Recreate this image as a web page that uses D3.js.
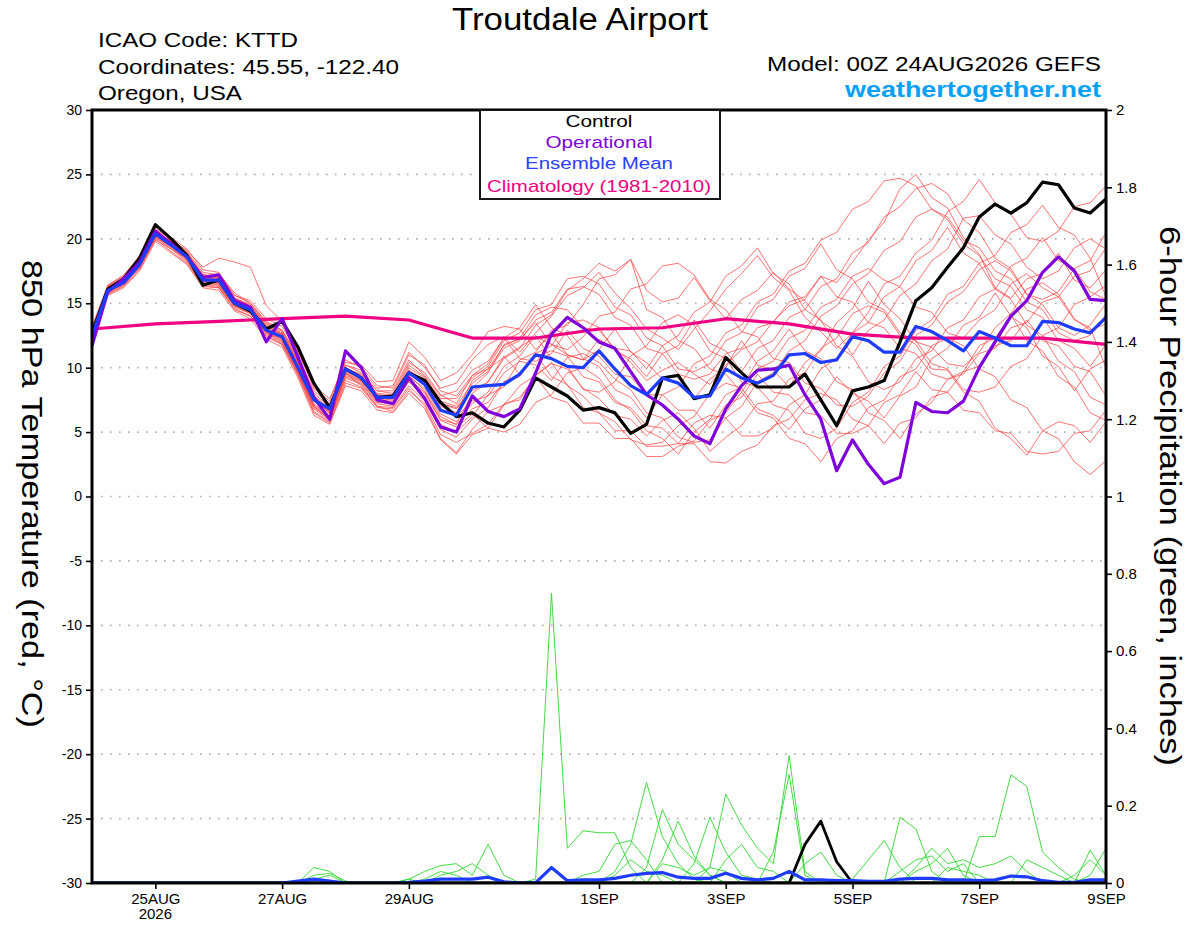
<!DOCTYPE html>
<html><head><meta charset="utf-8">
<script src="https://cdn.jsdelivr.net/npm/d3@7"></script>
<style>
html,body{margin:0;padding:0;background:#fff;}
svg text{font-family:"Liberation Sans",Arial,Helvetica,sans-serif;}
</style></head>
<body>
<svg id="chart" width="1200" height="927"></svg>
<script>
// ---------- data ----------
const startTimeUTC = Date.UTC(2026, 7, 24, 0);
const stepHours = 6;
const tempTicks = [30, 25, 20, 15, 10, 5, 0, -5, -10, -15, -20, -25, -30];
const precipTicks = [0, 0.2, 0.4, 0.6, 0.8, 1, 1.2, 1.4, 1.6, 1.8, 2];
const precipTickLabels = ["0", "0.2", "0.4", "0.6", "0.8", "1", "1.2", "1.4", "1.6", "1.8", "2"];
const dateTickValues = ["2026-08-25", "2026-08-27", "2026-08-29", "2026-09-01", "2026-09-03", "2026-09-05", "2026-09-07", "2026-09-09"];
const dateTickLabels = ["25AUG", "27AUG", "29AUG", "1SEP", "3SEP", "5SEP", "7SEP", "9SEP"];

// 850 hPa temperature (C), every 6 h from 00Z 24AUG
const controlTemp = [12.7,16.1,16.9,18.5,21.1,20.0,18.7,16.4,16.8,15.0,14.4,13.0,13.6,
  11.6,8.8,6.9,9.9,9.2,7.7,7.8,9.6,9.0,7.3,
  6.2,6.5,5.7,5.4,6.7,9.2,8.5,7.8,6.7,6.9,
  6.5,4.9,5.6,9.2,9.4,7.6,7.9,10.8,9.6,8.5,8.5,
  8.5,9.5,7.5,5.5,8.2,8.5,9.0,12.0,15.2,16.2,17.8,
  19.3,21.7,22.7,22.0,22.8,24.4,24.2,22.4,22.0,23.1];
const operationalTemp = [11.7,15.9,16.9,18.2,20.6,19.6,18.6,17.0,17.2,15.2,14.7,12.0,13.8,
  10.8,7.7,6.0,11.3,10.0,7.5,7.2,9.2,7.6,5.4,
  5.0,7.8,6.6,6.2,6.8,9.6,12.6,13.9,13.1,12.0,
  11.5,9.7,7.9,7.1,6.0,4.7,4.1,6.8,8.6,9.8,9.9,
  10.2,7.9,6.0,2.0,4.4,2.5,1.0,1.5,7.3,6.6,6.5,
  7.4,10.0,12.0,14.0,15.2,17.4,18.6,17.5,15.3,15.2];
const meanTemp = [12.5,16.0,16.6,18.0,20.4,19.5,18.6,16.8,16.8,15.0,14.5,12.9,12.4,
  10.0,7.5,6.8,9.9,9.2,7.7,7.7,9.6,8.7,6.7,
  6.3,8.5,8.6,8.7,9.5,11.0,10.7,10.1,10.0,11.3,
  9.9,8.6,7.9,9.2,8.8,7.7,7.8,9.9,9.2,8.8,9.4,
  11.0,11.1,10.4,10.6,12.4,12.1,11.2,11.2,13.2,12.8,12.1,
  11.3,12.8,12.3,11.7,11.7,13.6,13.5,13.0,12.7,13.9];
// climatology, one value per day 24AUG..9SEP
const climatologyTemp = [13.0,13.4,13.6,13.8,14.0,13.7,12.3,12.3,13.0,13.1,13.8,13.4,12.6,12.3,12.3,12.3,11.8];

const mem01 = [12.9,16.1,16.8,18.4,20.3,19.9,18.9,17.2,17.0,15.4,14.9,13.4,12.8, 10.6,7.8,6.4,9.9,9.5,8.2,8.0,10.4,9.6,7.9, 7.2,9.4,9.9,10.8,11.6,12.4,11.8,11.0,10.6,12.2, 11.5,10.4,9.0,9.8,10.4,9.5,8.7,10.2,11.4,12.0,13.6, 14.8,15.3,17.1,16.6,18.2,19.9,21.3,23.9,25.0,23.2,22.4, 20.1,18.8,16.2,15.4,16.9,17.3,18.9,16.8,16.2,17.6];
const mem02 = [12.6,15.8,16.5,17.9,20.1,19.4,18.4,16.6,16.9,15.2,14.3,12.8,12.2, 9.8,7.0,6.0,9.4,8.9,7.4,7.2,8.9,7.8,5.6, 5.0,6.2,7.9,8.5,10.6,11.2,12.9,13.3,14.9,16.9, 17.2,18.4,16.0,15.1,15.4,17.0,15.2,13.8,15.3,16.0,17.4, 16.1,15.2,13.6,12.8,11.0,12.9,13.7,15.6,16.5,18.3,19.2, 21.6,21.8,20.3,19.6,17.8,16.9,17.5,19.3,20.0,19.2];
const mem03 = [12.4,16.3,17.0,18.6,20.6,19.6,18.7,17.0,16.4,14.8,14.2,12.6,11.9, 9.6,6.8,5.9,9.6,8.6,7.0,6.6,8.2,7.2,4.8, 4.2,4.9,5.6,7.2,7.5,9.4,10.3,9.9,8.4,7.6, 6.3,6.0,4.7,5.9,6.5,5.3,3.5,4.6,5.5,7.2,7.4, 9.1,9.6,11.5,12.3,14.2,14.8,14.3,12.5,11.8,9.9,9.8, 8.1,7.4,5.3,4.5,3.2,5.1,5.8,5.5,4.2,5.8];
const mem04 = [13.1,16.0,16.6,17.8,19.9,19.2,18.5,17.1,17.3,15.8,15.0,13.6,12.9, 10.9,8.2,7.2,10.2,9.8,8.4,8.6,11.2,10.0,8.4, 8.8,10.6,11.8,12.4,11.2,12.7,14.0,15.6,16.2,17.4, 15.8,14.6,13.0,12.3,11.4,13.0,14.4,16.1,17.3,18.7,17.0, 16.0,13.9,12.8,11.5,12.7,14.3,16.5,17.1,18.9,19.9,22.1, 22.9,24.6,22.8,21.9,20.1,19.8,20.6,22.5,22.8,24.1];
const mem05 = [12.2,15.7,16.3,17.6,20.0,19.0,18.1,16.3,16.2,14.6,14.0,12.4,11.8, 9.4,6.5,5.7,8.8,8.4,6.9,6.8,8.4,7.0,4.5, 3.4,5.2,6.6,7.1,8.6,9.4,10.4,8.6,7.8,6.5, 5.8,4.4,4.0,4.2,5.5,6.2,8.0,8.8,8.4,6.8,6.3, 5.2,6.8,7.5,9.3,8.0,7.4,6.1,7.8,8.5,10.7,11.5, 13.3,13.9,15.8,14.0,13.1,10.9,10.1,8.2,9.9,10.6];
const mem06 = [12.8,16.4,17.1,18.7,20.8,20.1,19.2,17.6,17.4,15.6,15.2,13.8,13.2, 11.2,8.6,7.6,10.4,10.2,8.9,9.0,12.0,10.8,9.0, 9.6,11.0,12.8,13.2,13.0,11.4,12.6,11.0,10.6,11.4, 13.0,11.2,10.4,9.1,8.8,7.6,9.1,10.0,12.1,10.2,9.8, 8.5,10.4,11.3,13.5,14.6,16.7,14.9,13.8,12.0,11.6,10.3, 10.1,11.2,13.1,14.2,16.1,16.6,15.7,13.8,12.9,13.4];
const mem07 = [12.5,16.0,16.7,18.1,20.4,19.5,18.6,16.9,16.6,15.0,14.5,13.0,12.4, 10.0,7.4,6.6,9.8,9.2,7.8,7.6,9.6,8.6,6.8, 6.2,7.4,7.8,9.6,10.5,10.2,9.0,10.8,11.1,10.4, 9.1,8.3,6.5,6.1,4.6,4.2,4.4,6.1,7.0,8.9,9.6, 11.3,12.1,14.0,14.8,16.5,17.3,19.1,19.8,21.7,22.3,21.5, 19.6,18.7,16.9,16.3,14.5,13.9,12.1,11.5,10.1,11.8];
const mem08 = [12.7,16.2,16.9,18.2,20.5,19.7,18.8,17.0,16.8,15.2,14.6,13.2,12.6, 10.4,7.6,6.6,9.6,9.0,7.6,7.8,9.8,9.0,7.2, 6.8,8.4,9.6,11.8,12.2,13.5,11.8,11.4,12.4,14.0, 14.3,16.1,16.5,17.9,18.1,17.2,15.3,14.5,12.8,12.4,10.7, 10.4,8.8,8.4,7.1,7.0,7.8,9.6,10.5,12.5,13.3,15.1, 15.9,17.6,18.3,17.5,15.7,14.9,13.1,12.5,13.3,15.0];
const mem09 = [12.3,15.9,16.4,17.7,20.2,19.3,18.3,16.5,16.3,14.7,14.2,12.7,12.0, 9.6,6.9,6.0,9.2,8.7,7.2,7.0,9.0,8.0,5.9, 5.4,6.4,5.3,5.0,5.6,7.3,7.9,9.6,10.0,9.2, 7.5,6.7,5.1,4.5,3.3,5.0,6.0,7.9,8.5,10.5,11.3, 13.0,11.3,10.7,8.9,8.3,6.5,5.9,4.5,6.4,7.3,9.1, 9.7,11.7,12.3,14.1,12.1,11.3,9.3,8.5,6.5,5.9];
const mem10 = [13.0,16.1,16.8,18.3,20.6,19.8,18.8,17.2,17.1,15.4,14.8,13.3,12.7, 10.5,7.8,6.9,10.0,9.4,8.0,7.9,10.0,9.2,7.6, 7.6,9.2,10.1,12.1,12.7,14.5,14.9,16.9,17.1,16.5, 14.7,14.1,12.3,11.7,9.9,9.7,10.3,12.1,12.7,14.7,15.3, 17.1,17.7,19.6,17.6,16.9,15.1,14.5,12.7,12.1,10.3,9.9, 8.3,8.1,8.5,10.1,10.7,12.5,13.1,14.9,15.5,16.4];
const mem11 = [12.4,15.8,16.6,18.0,20.3,19.4,18.5,16.8,16.5,14.9,14.4,12.9,12.3, 9.9,7.2,6.2,9.5,9.0,7.5,7.4,9.3,8.4,6.4, 5.8,7.2,8.1,10.1,10.9,12.5,10.7,10.1,8.3,8.1, 8.9,10.9,11.7,13.5,14.1,13.3,11.3,10.7,8.9,8.5,7.1, 6.7,4.9,4.5,5.3,7.3,8.1,10.1,10.9,12.9,13.7,15.7, 16.3,18.1,18.7,20.5,21.1,22.6,20.9,20.3,18.5,15.5];
const mem12 = [12.9,16.3,17.0,18.5,20.7,20.0,19.0,17.4,17.2,15.6,15.0,13.5,12.9, 10.8,8.0,7.0,10.2,9.6,8.2,8.2,10.6,9.4,7.8, 8.2,9.8,10.5,12.3,10.7,10.5,11.1,12.9,11.5,10.9, 9.5,9.3,7.9,7.9,6.7,6.7,5.3,7.1,7.7,9.5,8.1, 7.9,6.5,6.3,4.9,4.9,5.5,7.3,7.9,9.7,8.3,8.1, 6.7,6.5,5.1,4.9,3.5,3.3,3.5,4.9,5.1,6.7];
const mem13 = [12.6,16.0,16.6,18.0,20.4,19.6,18.6,16.7,16.6,14.9,14.4,12.8,12.2, 9.8,7.1,6.2,9.7,9.1,7.6,7.5,9.4,8.2,6.2, 5.6,8.0,8.9,10.9,9.5,11.1,11.7,13.5,13.7,13.1, 11.3,10.7,9.3,11.1,11.7,13.7,11.9,11.3,9.7,11.5,12.1, 13.9,14.5,16.3,16.9,18.9,19.7,21.7,22.5,23.9,24.3,23.5, 21.5,20.5,18.5,17.7,15.7,15.3,15.9,17.7,18.3,20.5];
const mem14 = [12.7,16.1,16.7,18.2,20.5,19.6,18.7,17.0,16.9,15.1,14.7,13.1,12.5, 10.2,7.5,6.5,9.8,9.2,7.8,7.7,9.8,8.8,7.0, 6.5,9.0,9.9,11.7,12.3,14.1,14.7,14.5,13.1,12.9, 11.5,11.3,9.9,11.7,12.5,14.3,15.1,17.1,17.9,19.3,17.3, 16.5,14.5,13.7,11.7,10.9,8.9,8.3,8.9,10.7,11.3,13.1, 13.7,15.5,16.1,17.9,18.5,20.1,18.3,17.7,15.9,15.3];
const mem15 = [12.3,15.7,16.4,17.8,20.1,19.2,18.2,16.4,16.2,14.5,14.0,12.5,11.8, 9.5,6.6,5.8,9.0,8.5,7.0,6.9,8.6,7.4,5.2, 4.6,6.0,6.9,8.9,9.5,11.1,9.3,8.7,6.9,6.5, 5.1,5.1,3.9,3.9,4.1,5.7,6.3,6.1,4.7,4.7,5.3, 7.1,7.9,9.9,10.7,12.7,13.5,15.5,16.3,18.3,19.1,20.9, 18.9,18.1,16.1,15.3,13.3,12.5,10.5,9.7,7.7,7.1];
const mem16 = [13.2,16.4,17.2,18.6,20.4,19.9,19.1,17.8,18.5,18.2,17.8,14.8,13.6, 11.3,8.4,7.4,10.6,10.0,8.6,8.4,11.0,10.2,8.2, 7.8,9.4,10.3,12.3,13.1,14.9,13.1,12.5,10.7,10.1, 8.3,7.7,6.1,7.9,8.5,10.3,10.9,12.7,13.3,15.1,15.7, 17.5,18.1,19.9,20.5,22.3,22.9,24.5,24.7,24.1,22.3,21.7, 19.9,19.3,17.5,16.9,15.1,14.5,12.7,12.1,12.5,14.1];
const mem17 = [12.1,15.6,16.2,17.5,19.8,18.9,18.0,16.2,16.0,14.4,13.8,12.2,11.6, 9.2,6.3,5.6,8.6,8.2,6.7,6.5,8.0,6.8,4.4, 3.3,4.8,5.3,7.1,7.7,9.3,7.7,7.3,5.7,5.7, 4.5,4.5,3.1,3.1,3.9,4.3,5.9,6.5,8.1,6.5,6.1, 4.5,4.1,2.7,4.5,5.1,6.9,7.5,9.3,9.9,11.7,12.3, 11.7,9.9,9.3,7.5,6.9,5.1,4.5,2.7,1.7,2.8];
const mem18 = [12.8,16.2,16.9,18.4,20.6,19.8,18.9,17.2,17.0,15.3,14.8,13.2,12.6, 10.4,7.7,6.8,9.9,9.3,7.9,7.8,10.2,9.3,7.4, 7.0,8.8,9.7,11.5,12.1,13.7,14.3,16.1,16.3,15.7, 13.9,13.3,11.5,11.1,9.5,9.1,9.5,11.1,11.5,13.1,13.5, 15.1,15.5,17.1,15.5,15.1,13.5,13.1,11.5,11.1,9.5,9.1, 9.5,11.1,11.5,13.1,13.5,15.1,15.5,17.1,17.5,19.3];
const mem19 = [12.5,15.9,16.5,17.9,20.2,19.4,18.4,16.6,16.4,14.8,14.3,12.7,12.1, 9.7,7.0,6.1,9.3,8.8,7.3,7.2,9.1,8.1,6.0, 5.6,6.8,7.3,8.9,9.3,10.9,11.3,10.9,9.3,8.9, 7.3,6.9,5.5,5.3,4.1,4.1,2.7,2.6,3.5,4.0,5.5, 6.0,7.5,8.0,7.5,6.0,5.5,4.1,5.7,6.1,7.7,8.1, 9.7,10.1,11.7,12.1,13.7,12.1,11.7,10.1,9.7,7.8];
const mem20 = [12.9,16.2,16.9,18.3,20.5,19.7,18.8,17.1,16.9,15.2,14.7,13.2,12.6, 10.3,7.6,6.7,9.8,9.3,7.8,7.7,9.7,8.9,7.2, 6.9,8.2,8.9,10.7,11.5,13.3,14.1,16.0,16.9,18.1, 17.5,18.4,14.5,13.9,12.1,11.5,9.9,9.5,8.1,9.9,10.5, 12.3,12.9,14.7,15.3,17.1,17.7,16.8,16.3,14.7,14.3,12.7, 12.3,13.7,14.5,16.5,17.3,16.2,15.5,13.7,13.1,10.0];

// 6-hour precipitation (inches)
const controlPrecip = [0,0,0,0,0,0,0,0, 0,0,0,0,0,0,0,0, 0,0,0,0,0,0,0,0, 0,0,0,0,0,0,0,0, 0,0,0,0,0,0,0,0, 0,0,0,0,0,0.10,0.16,0.055, 0,0,0,0,0,0,0,0, 0,0,0,0,0,0,0,0, 0];
const meanPrecip = [0,0,0,0,0,0,0,0, 0,0,0,0,0,0.005,0.01,0.005, 0,0,0,0,0.002,0.005,0.01,0.01, 0.01,0.015,0.003,0,0.001,0.04,0.006,0.008, 0.008,0.012,0.02,0.025,0.027,0.015,0.012,0.012, 0.025,0.012,0.008,0.012,0.03,0.008,0.008,0.006, 0.006,0.004,0.004,0.01,0.012,0.012,0.008,0.008, 0.006,0.008,0.018,0.016,0.006,0.002,0.002,0.008, 0.008];
const pcp01 = [0,0,0,0,0,0,0,0, 0,0,0,0,0,0,0,0, 0,0,0,0,0,0,0,0, 0,0,0,0,0.01,0.75,0.09,0.135, 0.13,0.13,0.04,0,0,0,0,0, 0,0,0,0,0,0,0,0, 0,0,0,0,0,0,0,0, 0,0,0,0,0,0,0,0, 0];
const pcp02 = [0,0,0,0,0,0,0,0, 0,0,0,0,0,0,0.01,0.02, 0,0,0,0,0.01,0.03,0.045,0.05, 0.02,0.1,0.02,0,0,0,0,0, 0,0,0,0,0,0,0,0, 0,0,0,0,0,0,0,0, 0,0,0,0,0,0,0,0, 0,0,0,0,0,0,0,0, 0];
const pcp03 = [0,0,0,0,0,0,0,0, 0,0,0,0,0,0,0.04,0.03, 0,0,0,0,0,0,0,0, 0,0,0,0,0,0,0,0, 0,0.03,0.1,0.26,0.12,0.05,0.01,0, 0,0,0,0,0,0,0,0, 0,0,0,0,0,0,0,0, 0,0,0,0,0,0,0,0, 0];
const pcp04 = [0,0,0,0,0,0,0,0, 0,0,0,0,0,0,0.02,0.025, 0.005,0,0,0,0.01,0,0,0, 0,0,0,0,0,0,0,0, 0,0,0,0.04,0.19,0.1,0.06,0.02, 0,0,0,0,0,0,0,0, 0,0,0,0,0,0,0,0, 0,0,0,0,0,0,0,0, 0];
const pcp05 = [0,0,0,0,0,0,0,0, 0,0,0,0,0,0,0,0, 0,0,0,0,0,0,0.02,0.03, 0.05,0.02,0,0,0,0,0,0, 0,0,0,0,0,0,0.05,0.17, 0.08,0.02,0.01,0,0,0,0,0, 0,0,0,0,0,0,0,0, 0.12,0.12,0.28,0.25,0.08,0.04,0.01,0, 0];
const pcp06 = [0,0,0,0,0,0,0,0, 0,0,0,0,0,0,0,0, 0,0,0,0,0,0,0,0, 0,0,0,0,0,0,0,0, 0,0,0,0,0,0,0,0.04, 0.23,0.15,0.09,0.05,0.33,0.03,0,0, 0,0,0,0.17,0.14,0.03,0,0, 0,0,0,0,0,0,0,0, 0];
const pcp07 = [0,0,0,0,0,0,0,0, 0,0,0,0,0,0,0,0, 0,0,0,0,0,0,0,0, 0,0,0,0,0,0,0,0, 0,0,0,0,0,0,0,0, 0,0,0,0.08,0.28,0.02,0,0, 0.01,0.06,0.11,0.04,0,0,0,0, 0,0,0,0,0,0,0,0.085, 0.02];
const pcp08 = [0,0,0,0,0,0,0,0, 0,0,0,0,0,0,0,0, 0,0,0,0,0,0,0,0, 0,0,0,0,0,0,0,0, 0,0,0,0,0.05,0.04,0.02,0.04, 0.03,0,0,0,0,0,0,0, 0,0,0,0,0.04,0.09,0.05,0.06, 0.04,0.05,0.07,0.03,0,0,0,0.02, 0.09];
const pcp09 = [0,0,0,0,0,0,0,0, 0,0,0,0,0,0,0.01,0, 0,0,0,0,0,0,0,0, 0,0,0,0,0,0,0,0, 0,0.02,0.06,0.03,0.02,0,0,0, 0,0,0,0,0,0,0,0, 0,0,0,0.03,0.06,0.07,0.03,0.05, 0,0,0,0,0,0,0.02,0.06, 0.02];
const pcp10 = [0,0,0,0,0,0,0,0, 0,0,0,0,0,0,0,0, 0,0,0,0,0,0,0,0, 0,0,0,0,0,0,0,0.02, 0.03,0.1,0.11,0.06,0,0,0,0, 0.06,0.1,0.04,0.03,0,0,0,0, 0,0,0,0,0,0,0,0, 0,0,0,0,0,0,0,0, 0];
const pcp11 = [0,0,0,0,0,0,0,0, 0,0,0,0,0,0,0,0, 0,0,0,0,0,0,0,0, 0,0,0,0,0,0,0,0, 0,0,0,0,0.06,0.16,0.07,0.02, 0,0,0,0,0,0,0,0, 0,0,0,0,0.03,0.05,0.09,0.02, 0,0,0,0.06,0.04,0.02,0,0, 0];
const pcp12 = [0,0,0,0,0,0,0,0, 0,0,0,0,0,0,0,0, 0,0,0,0,0,0.01,0.03,0.02, 0,0,0,0,0,0,0,0, 0,0,0,0,0,0,0,0, 0,0,0,0,0,0.05,0.08,0.02, 0,0,0,0,0,0,0.04,0.03, 0.02,0,0,0,0,0,0,0, 0];

const tempMembers = [mem01,mem02,mem03,mem04,mem05,mem06,mem07,mem08,mem09,mem10,mem11,mem12,mem13,mem14,mem15,mem16,mem17,mem18,mem19,mem20];
const precipMembers = [pcp01,pcp02,pcp03,pcp04,pcp05,pcp06,pcp07,pcp08,pcp09,pcp10,pcp11,pcp12];

// ---------- drawing ----------
const FONT = '"Liberation Sans", Arial, Helvetica, sans-serif';
const svg = d3.select("#chart");
const M = {left: 92, right: 1106, top: 110, bottom: 883};
const nSteps = controlTemp.length - 1;
const tAt = i => new Date(startTimeUTC + i * stepHours * 3600e3);
const x = d3.scaleUtc().domain([tAt(0), tAt(nSteps)]).range([M.left, M.right]);
const yT = d3.scaleLinear().domain([-30, 30]).range([M.bottom, M.top]);
const yP = d3.scaleLinear().domain([0, 2]).range([M.bottom, M.top]);

svg.append("rect").attr("width", 1200).attr("height", 927).attr("fill", "#fff");

// grid
svg.append("g").selectAll("line")
  .data(tempTicks.filter(t => t > -30 && t < 30))
  .join("line")
  .attr("x1", M.left).attr("x2", M.right)
  .attr("y1", d => yT(d)).attr("y2", d => yT(d))
  .attr("stroke", "#b0b0b0").attr("stroke-width", 1.6)
  .attr("stroke-dasharray", "1.6,7.4");

svg.append("defs").append("clipPath").attr("id", "plotclip")
  .append("rect").attr("x", M.left).attr("y", M.top)
  .attr("width", M.right - M.left).attr("height", M.bottom - M.top);

const plot = svg.append("g").attr("clip-path", "url(#plotclip)");
const lineT = d3.line().x((d, i) => x(tAt(i))).y(d => yT(d));
const lineP = d3.line().x((d, i) => x(tAt(i))).y(d => yP(d));
const lineClim = d3.line().x((d, i) => x(tAt(i * 4))).y(d => yT(d));

plot.append("g").selectAll("path").data(tempMembers).join("path")
  .attr("d", lineT).attr("fill", "none")
  .attr("stroke", "#ff3c3c").attr("stroke-opacity", 0.8).attr("stroke-width", 0.9);

plot.append("g").selectAll("path").data(precipMembers).join("path")
  .attr("d", lineP).attr("fill", "none")
  .attr("stroke", "#2ed82e").attr("stroke-width", 0.9);

const mainLine = (data, gen, color, w) => plot.append("path").datum(data)
  .attr("d", gen).attr("fill", "none").attr("stroke", color)
  .attr("stroke-width", w).attr("stroke-linejoin", "round");

mainLine(climatologyTemp, lineClim, "#f00082", 3.2);
mainLine(controlTemp, lineT, "#000000", 3.2);
mainLine(operationalTemp, lineT, "#8000dc", 3.2);
mainLine(meanTemp, lineT, "#1e3cff", 3.2);
mainLine(controlPrecip, lineP, "#000000", 2.8);
mainLine(meanPrecip, lineP, "#1e3cff", 3.2);

// axes
const axL = d3.axisLeft(yT).tickValues(tempTicks).tickFormat(d => String(d))
  .tickSize(6).tickSizeOuter(0).tickPadding(4);
const gL = svg.append("g").attr("transform", `translate(${M.left},0)`).call(axL);
const axR = d3.axisRight(yP).tickValues(precipTicks).tickFormat((d, i) => precipTickLabels[i])
  .tickSize(6).tickSizeOuter(0).tickPadding(4);
const gR = svg.append("g").attr("transform", `translate(${M.right},0)`).call(axR);
const axB = d3.axisBottom(x).tickValues(dateTickValues.map(s => new Date(s + "T00:00:00Z")))
  .tickFormat((d, i) => dateTickLabels[i]).tickSize(6).tickSizeOuter(0).tickPadding(4);
const gB = svg.append("g").attr("transform", `translate(0,${M.bottom})`).call(axB);

[gL, gR, gB].forEach(g => {
  g.attr("font-family", FONT);
  g.select(".domain").remove();
  g.selectAll(".tick line").attr("stroke", "#000").attr("stroke-width", 1.6);
  g.selectAll(".tick text").attr("fill", "#000");
});
gL.attr("font-size", 14);
gR.attr("font-size", 15);
gB.attr("font-size", 15);

svg.append("text").attr("x", x(new Date(dateTickValues[0] + "T00:00:00Z"))).attr("y", 919)
  .attr("text-anchor", "middle").attr("font-size", 15).text("2026");

// frame
svg.append("rect").attr("x", M.left).attr("y", M.top)
  .attr("width", M.right - M.left).attr("height", M.bottom - M.top)
  .attr("fill", "none").attr("stroke", "#000").attr("stroke-width", 3);

// legend
svg.append("rect").attr("x", 480).attr("y", M.top).attr("width", 240).attr("height", 89)
  .attr("fill", "#fff").attr("stroke", "#000").attr("stroke-width", 1.8);
const legendItems = [
  {t: "Control", c: "#000000", y: 126.5, w: 67},
  {t: "Operational", c: "#8000dc", y: 147.8, w: 107},
  {t: "Ensemble Mean", c: "#2a40ff", y: 169.3, w: 148},
  {t: "Climatology (1981-2010)", c: "#f00082", y: 191.5, w: 224}
];
svg.append("g").selectAll("text").data(legendItems).join("text")
  .attr("x", 599).attr("y", d => d.y).attr("text-anchor", "middle")
  .attr("font-size", 17).attr("fill", d => d.c)
  .attr("textLength", d => d.w).attr("lengthAdjust", "spacingAndGlyphs")
  .text(d => d.t);

// titles
const txt = (s, xx, yy, size, anchor, len, extra) => {
  const t = svg.append("text").attr("x", xx).attr("y", yy).attr("font-size", size)
    .attr("text-anchor", anchor).attr("fill", "#000").text(s);
  if (len) t.attr("textLength", len).attr("lengthAdjust", "spacingAndGlyphs");
  return t;
};
txt("Troutdale Airport", 580, 30, 31, "middle", 256);
txt("ICAO Code: KTTD", 98, 47, 20, "start", 200);
txt("Coordinates: 45.55, -122.40", 98, 73.5, 20, "start", 301);
txt("Oregon, USA", 98, 100, 20, "start", 144);
txt("Model: 00Z 24AUG2026 GEFS", 1101, 71, 20, "end", 334);
txt("weathertogether.net", 1101, 97, 22, "end", 256)
  .attr("font-weight", "bold").attr("fill", "#0aa0f5");

svg.append("text").attr("transform", "translate(22,494) rotate(90)")
  .attr("text-anchor", "middle").attr("font-size", 30)
  .attr("textLength", 468).attr("lengthAdjust", "spacingAndGlyphs")
  .text("850 hPa Temperature (red, °C)");
svg.append("text").attr("transform", "translate(1160,496) rotate(90)")
  .attr("text-anchor", "middle").attr("font-size", 30)
  .attr("textLength", 540).attr("lengthAdjust", "spacingAndGlyphs")
  .text("6-hour Precipitation (green, inches)");
</script>
</body></html>
